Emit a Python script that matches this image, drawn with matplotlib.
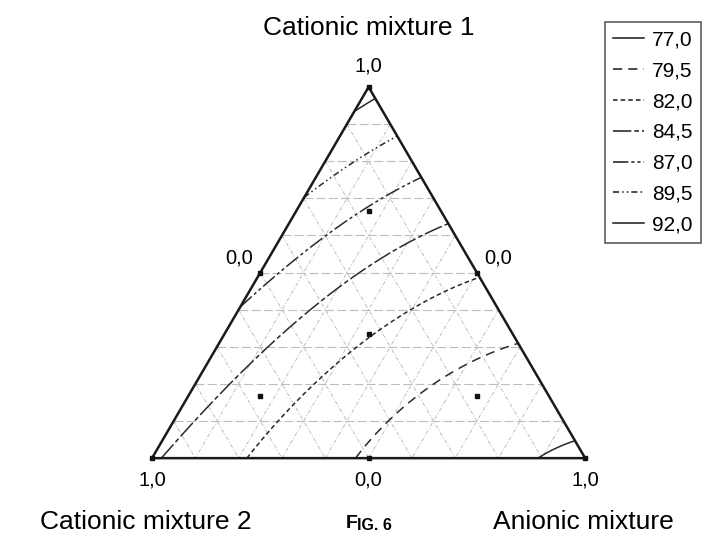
import numpy as np
import matplotlib
matplotlib.use("Agg")
import matplotlib.pyplot as plt
import matplotlib.tri as mtri
from matplotlib.lines import Line2D

plt.rcParams['font.family'] = ['Liberation Sans', 'DejaVu Sans']

# Scheffe special cubic model (x1 = Cationic mixture 1, x2 = Cationic mixture 2, x3 = Anionic mixture)
b_lin = [92.8, 84.8, 76.7]          # b1, b2, b3
b_bin = [-4.4, -10.2, -6.0]         # b12, b13, b23
b_ter = -10.0                       # b123

levels = [77.0, 79.5, 82.0, 84.5, 87.0, 89.5, 92.0]
level_labels = ['77,0', '79,5', '82,0', '84,5', '87,0', '89,5', '92,0']
dash_styles = ['solid', (0, (6, 4)), (0, (3, 2)), (0, (12, 2, 3, 2)),
               (0, (10, 2, 2, 2, 2, 2)), (0, (4, 2, 1, 2, 1, 2)), 'solid']

# design points (x1, x2, x3)
design = [(1, 0, 0), (0, 1, 0), (0, 0, 1),
          (0.5, 0.5, 0), (0.5, 0, 0.5), (0, 0.5, 0.5),
          (1/3, 1/3, 1/3),
          (2/3, 1/6, 1/6), (1/6, 2/3, 1/6), (1/6, 1/6, 2/3)]

vertex_labels = ['1,0', '1,0', '1,0']
edge_labels = ['0,0', '0,0', '0,0']
comp_names = ['Cationic mixture 1', 'Cationic mixture 2', 'Anionic mixture']


def to_xy(x1, x2, x3):
    x1, x2, x3 = np.asarray(x1), np.asarray(x2), np.asarray(x3)
    return x3 + 0.5 * x1, x1 * np.sqrt(3) / 2


def model(x1, x2, x3):
    return (b_lin[0] * x1 + b_lin[1] * x2 + b_lin[2] * x3
            + b_bin[0] * x1 * x2 + b_bin[1] * x1 * x3 + b_bin[2] * x2 * x3
            + b_ter * x1 * x2 * x3)


fig = plt.figure(figsize=(7.06, 5.40), dpi=100)
ax = fig.add_axes([0, 0, 1, 1])
ax.set_xlim(-0.351, 1.279)
ax.set_ylim(-0.191, 1.069)
ax.axis('off')

# grid at 0.1 steps parallel to each side
gcol = '#bdbdbd'
for k in range(1, 10):
    c = k / 10
    # x1 = c
    gx, gy = to_xy([c, c], [1 - c, 0], [0, 1 - c])
    ax.plot(gx, gy, color=gcol, lw=0.8, ls=(0, (8, 3)), zorder=1)
    # x2 = c
    gx, gy = to_xy([1 - c, 0], [c, c], [0, 1 - c])
    ax.plot(gx, gy, color=gcol, lw=0.7, ls=(0, (4, 2, 1, 2)), zorder=1)
    # x3 = c
    gx, gy = to_xy([1 - c, 0], [0, 1 - c], [c, c])
    ax.plot(gx, gy, color=gcol, lw=0.7, ls=(0, (4, 2, 1, 2)), zorder=1)

# contour lines of the fitted model
n = 120
pts = []
for i in range(n + 1):
    for j in range(n + 1 - i):
        pts.append((i / n, j / n, 1 - i / n - j / n))
pts = np.array(pts)
px, py = to_xy(pts[:, 0], pts[:, 1], pts[:, 2])
z = model(pts[:, 0], pts[:, 1], pts[:, 2])
tri = mtri.Triangulation(px, py)
cs = ax.tricontour(tri, z, levels=levels, colors='k')
handles = []
for lev, segs, ls, lab in zip(levels, cs.allsegs, dash_styles, level_labels):
    for seg in segs:
        ax.plot(seg[:, 0], seg[:, 1], color='#2a2a2a', lw=1.1, ls=ls, zorder=2)
    handles.append(Line2D([], [], color='#1a1a1a', lw=1.1, ls=ls, label=lab))
cs.remove()

# triangle outline
tx, ty = to_xy([1, 0, 0, 1], [0, 1, 0, 0], [0, 0, 1, 0])
ax.plot(tx, ty, color='#1a1a1a', lw=1.8, zorder=3, solid_joinstyle='miter')

# design points
d = np.array(design)
dx, dy = to_xy(d[:, 0], d[:, 1], d[:, 2])
ax.plot(dx, dy, 's', color='#111111', ms=3.5, zorder=4, ls='none')

fs_tick = 14.5
fs_name = 19
# vertex and edge labels
vx, vy = to_xy([1, 0, 0], [0, 1, 0], [0, 0, 1])
ax.text(vx[0], vy[0] + 0.05, vertex_labels[0], ha='center', va='center', fontsize=fs_tick)
ax.text(vx[1], vy[1] - 0.051, vertex_labels[1], ha='center', va='center', fontsize=fs_tick)
ax.text(vx[2], vy[2] - 0.051, vertex_labels[2], ha='center', va='center', fontsize=fs_tick)
ex, ey = to_xy([0.5, 0.5, 0], [0.5, 0, 0.5], [0, 0.5, 0.5])
ax.text(ex[0] - 0.05, ey[0] + 0.035, edge_labels[0], ha='center', va='center', fontsize=fs_tick)
ax.text(ex[1] + 0.05, ey[1] + 0.035, edge_labels[1], ha='center', va='center', fontsize=fs_tick)
ax.text(ex[2], ey[2] - 0.051, edge_labels[2], ha='center', va='center', fontsize=fs_tick)

ax.text(vx[0], 1.003, comp_names[0], ha='center', va='center', fontsize=fs_name)
ax.text(vx[1] - 0.014, -0.149, comp_names[1], ha='center', va='center', fontsize=fs_name)
ax.text(vx[2] - 0.005, -0.149, comp_names[2], ha='center', va='center', fontsize=fs_name)

# "FIG. 6" in small caps style
ax.text(0.474, -0.153, 'F', ha='right', va='center', fontsize=14, fontweight='bold')
ax.text(0.474, -0.156, 'IG. 6', ha='left', va='center', fontsize=11.5, fontweight='bold')

leg = fig.legend(handles=handles, loc='upper left', bbox_to_anchor=(605 / 706, 1 - 22 / 540),
                 frameon=True, fancybox=False, edgecolor='#333333', fontsize=15,
                 handlelength=1.45, handletextpad=0.4, labelspacing=0.57,
                 borderpad=0.4, borderaxespad=0)
leg.get_frame().set_linewidth(1.2)

fig.savefig('out.png', dpi=100)
